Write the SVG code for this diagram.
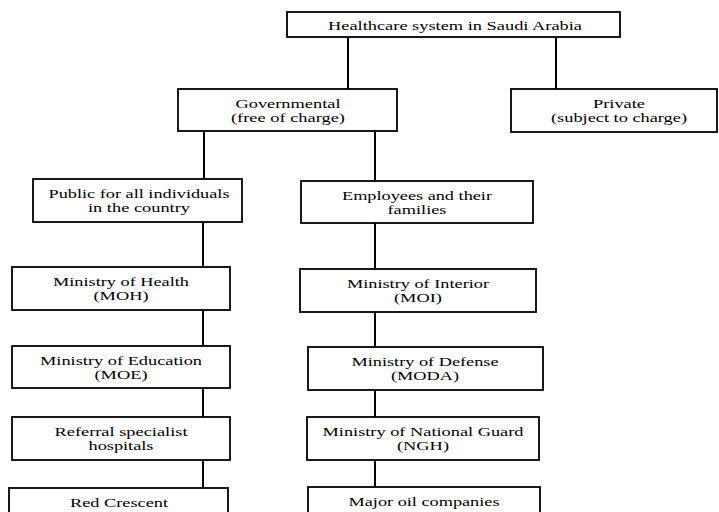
<svg xmlns="http://www.w3.org/2000/svg" width="719" height="512" viewBox="0 0 719 512">
<style>
.box{fill:#fff;stroke:#000;stroke-width:1.8}
.c{stroke:#000;stroke-width:2;fill:none}
text{font-family:"Liberation Serif","Times New Roman",serif;font-size:13px;fill:#000;text-anchor:middle}
</style>
<rect width="719" height="512" fill="#fff"/>
<g id="connectors">
<line class="c" x1="348" y1="37" x2="348" y2="89"/>
<line class="c" x1="556" y1="37" x2="556" y2="89"/>
<line class="c" x1="204" y1="131" x2="204" y2="179"/>
<line class="c" x1="375" y1="131" x2="375" y2="181"/>
<line class="c" x1="203" y1="222" x2="203" y2="267"/>
<line class="c" x1="203" y1="310" x2="203" y2="346"/>
<line class="c" x1="203" y1="388" x2="203" y2="417"/>
<line class="c" x1="203" y1="460" x2="203" y2="488"/>
<line class="c" x1="375" y1="223" x2="375" y2="269"/>
<line class="c" x1="375" y1="312" x2="375" y2="347"/>
<line class="c" x1="375" y1="390" x2="375" y2="417"/>
<line class="c" x1="375" y1="460" x2="375" y2="487"/>
</g>
<g id="root">
<rect class="box" x="287" y="12" width="333" height="25"/>
<text x="455" y="30" textLength="254" lengthAdjust="spacingAndGlyphs">Healthcare system in Saudi Arabia</text>
</g>
<g id="gov">
<rect class="box" x="178" y="89" width="219" height="42"/>
<text x="288" y="107.5" textLength="105" lengthAdjust="spacingAndGlyphs">Governmental</text>
<text x="288" y="122" textLength="114" lengthAdjust="spacingAndGlyphs">(free of charge)</text>
</g>
<g id="private">
<rect class="box" x="511" y="89" width="206" height="43"/>
<text x="619" y="107.5" textLength="52" lengthAdjust="spacingAndGlyphs">Private</text>
<text x="619" y="122" textLength="136" lengthAdjust="spacingAndGlyphs">(subject to charge)</text>
</g>
<g id="public">
<rect class="box" x="33" y="179" width="209" height="43"/>
<text x="139" y="197.5" textLength="181" lengthAdjust="spacingAndGlyphs">Public for all individuals</text>
<text x="139" y="212" textLength="102" lengthAdjust="spacingAndGlyphs">in the country</text>
</g>
<g id="employees">
<rect class="box" x="301" y="181" width="232" height="42"/>
<text x="417" y="199.5" textLength="150" lengthAdjust="spacingAndGlyphs">Employees and their</text>
<text x="417" y="214" textLength="59" lengthAdjust="spacingAndGlyphs">families</text>
</g>
<g id="moh">
<rect class="box" x="12" y="267" width="218" height="43"/>
<text x="121" y="285.5" textLength="136" lengthAdjust="spacingAndGlyphs">Ministry of Health</text>
<text x="121" y="300" textLength="55" lengthAdjust="spacingAndGlyphs">(MOH)</text>
</g>
<g id="moe">
<rect class="box" x="12" y="346" width="218" height="42"/>
<text x="121" y="364.5" textLength="162" lengthAdjust="spacingAndGlyphs">Ministry of Education</text>
<text x="121" y="379" textLength="53" lengthAdjust="spacingAndGlyphs">(MOE)</text>
</g>
<g id="referral">
<rect class="box" x="12" y="417" width="218" height="43"/>
<text x="121" y="435.5" textLength="133" lengthAdjust="spacingAndGlyphs">Referral specialist</text>
<text x="121" y="450" textLength="65" lengthAdjust="spacingAndGlyphs">hospitals</text>
</g>
<g id="redcrescent">
<rect class="box" x="9" y="488" width="219" height="42"/>
<text x="119" y="506.5" textLength="98" lengthAdjust="spacingAndGlyphs">Red Crescent</text>
</g>
<g id="moi">
<rect class="box" x="300" y="269" width="236" height="43"/>
<text x="418" y="287.5" textLength="142" lengthAdjust="spacingAndGlyphs">Ministry of Interior</text>
<text x="418" y="302" textLength="48" lengthAdjust="spacingAndGlyphs">(MOI)</text>
</g>
<g id="moda">
<rect class="box" x="308" y="347" width="235" height="43"/>
<text x="425" y="365.5" textLength="147" lengthAdjust="spacingAndGlyphs">Ministry of Defense</text>
<text x="425" y="380" textLength="68" lengthAdjust="spacingAndGlyphs">(MODA)</text>
</g>
<g id="ngh">
<rect class="box" x="307" y="417" width="232" height="43"/>
<text x="423" y="435.5" textLength="201" lengthAdjust="spacingAndGlyphs">Ministry of National Guard</text>
<text x="423" y="450" textLength="52" lengthAdjust="spacingAndGlyphs">(NGH)</text>
</g>
<g id="oil">
<rect class="box" x="308" y="487" width="232" height="43"/>
<text x="424" y="505.5" textLength="151" lengthAdjust="spacingAndGlyphs">Major oil companies</text>
</g>
</svg>
